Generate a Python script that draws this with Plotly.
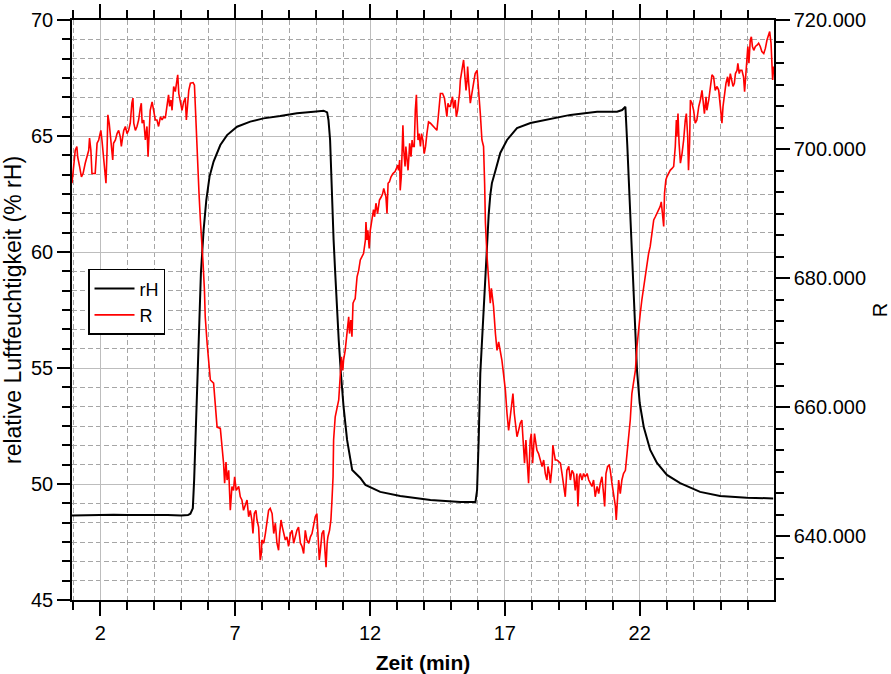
import plotly.graph_objects as go

# ---- data ----
rh_time = [0.95, 1.5, 2.0, 2.5, 3.0, 3.5, 4.0, 4.5, 5.0, 5.25, 5.34, 5.43, 5.48, 5.56, 5.61, 5.67,
           5.73, 5.83, 5.93, 6.05, 6.20, 6.45, 6.70, 7.07, 7.56, 8.05, 8.67, 9.29, 9.91, 10.28,
           10.41, 10.46, 10.52, 10.58, 10.65, 10.71, 10.77, 10.84, 10.92, 11.02, 11.15, 11.34,
           11.64, 11.83, 12.38, 13.12, 14.24, 15.35, 15.91, 15.97, 16.03, 16.09, 16.22, 16.28,
           16.34, 16.40, 16.46, 16.52, 16.65, 16.83, 17.08, 17.45, 17.95, 18.93, 19.43, 20.42, 21.16,
           21.35, 21.47, 21.54, 21.66, 21.72, 21.78, 21.84, 21.90, 22.00, 22.15, 22.39, 22.64,
           23.01, 23.50, 24.24, 24.98, 25.97, 26.95]
rh_values = [48.64, 48.66, 48.65, 48.67, 48.66, 48.67, 48.65, 48.66, 48.64, 48.66, 48.72, 48.95,
             50.2, 53.33, 55.49, 56.93, 59.09, 60.95, 62.24, 63.25, 63.90, 64.61, 65.04, 65.40,
             65.62, 65.76, 65.86, 65.98, 66.05, 66.09, 66.02, 65.69, 64.83, 62.67, 60.52, 59.09,
             57.63, 56.21, 54.78, 53.32, 51.90, 50.60, 50.26, 49.96, 49.66, 49.48, 49.31, 49.22,
             49.22, 49.74, 51.90, 54.78, 57.63, 59.09, 60.52, 61.6, 62.45, 62.97, 63.5, 64.27, 64.83,
             65.34, 65.56, 65.78, 65.91, 66.05, 66.05, 66.12, 66.26, 64.60, 61.38, 59.22, 57.80,
             56.34, 54.91, 53.49, 52.46, 51.47, 50.91, 50.39, 50.04, 49.66, 49.48, 49.41, 49.38]

r_time = [0.95, 1.01, 1.07, 1.13, 1.16, 1.23, 1.30, 1.36, 1.44, 1.57, 1.60, 1.65, 1.69, 1.81, 1.88,
          1.94, 2.02, 2.06, 2.12, 2.16, 2.21, 2.25, 2.28, 2.33, 2.37, 2.41, 2.46, 2.49, 2.56, 2.62,
          2.68, 2.74, 2.78, 2.83, 2.87, 2.93, 2.99, 3.05, 3.11, 3.17, 3.21, 3.24, 3.30, 3.36, 3.42,
          3.48, 3.52, 3.55, 3.61, 3.67, 3.73, 3.77, 3.80, 3.85, 3.92, 3.98, 4.04, 4.10, 4.16, 4.23,
          4.29, 4.35, 4.41, 4.47, 4.53, 4.57, 4.62, 4.66, 4.72, 4.78, 4.84, 4.87, 4.91, 4.97, 5.03,
          5.09, 5.15, 5.19, 5.24, 5.28, 5.34, 5.44, 5.49, 5.52, 5.56, 5.61, 5.66, 5.71,
          5.77, 5.81, 5.86, 5.89, 5.96, 6.02, 6.08, 6.20, 6.26,
          6.33, 6.45, 6.51, 6.57, 6.61, 6.66, 6.70, 6.76, 6.82, 6.88, 6.94, 6.98, 7.04, 7.13, 7.19,
          7.25, 7.31, 7.38, 7.44, 7.50, 7.56, 7.62, 7.66, 7.71, 7.77, 7.81, 7.87, 7.93, 7.97, 7.99,
          8.06, 8.12, 8.18, 8.24, 8.30, 8.37, 8.43, 8.49, 8.55, 8.61, 8.65, 8.70, 8.75, 8.80, 8.86,
          8.92, 8.98, 9.05, 9.11, 9.17, 9.23, 9.29, 9.35, 9.42, 9.48, 9.54, 9.60, 9.66, 9.73, 9.79,
          9.85, 9.91, 9.97, 10.03, 10.07, 10.12, 10.16, 10.22, 10.28, 10.32, 10.37, 10.41, 10.44,
          10.50, 10.55, 10.59, 10.63,
          10.65, 10.71, 10.84, 10.90, 10.94, 10.99, 11.02, 11.08, 11.15, 11.21, 11.24, 11.29, 11.33,
          11.37, 11.42, 11.45, 11.52, 11.58, 11.64, 11.70, 11.76, 11.83, 11.85, 11.89, 11.92, 11.97,
          12.01, 12.07, 12.13, 12.17, 12.22, 12.28, 12.35, 12.42, 12.47, 12.51, 12.54, 12.59, 12.63,
          12.67, 12.72, 12.78, 12.85, 12.93, 12.98, 13.03, 13.06, 13.10, 13.12, 13.16, 13.20, 13.22,
          13.25, 13.30, 13.33, 13.37, 13.41, 13.45, 13.47, 13.52, 13.56, 13.59, 13.64, 13.68, 13.72,
          13.74, 13.78, 13.82, 13.87, 13.91, 13.96, 14.01, 14.06, 14.11, 14.17, 14.24, 14.30, 14.36,
          14.42, 14.48, 14.52, 14.57, 14.61, 14.69, 14.76, 14.82, 14.85, 14.89, 14.94, 14.98, 15.01,
          15.06, 15.10, 15.16, 15.20, 15.25, 15.29, 15.32, 15.35, 15.39, 15.44, 15.47, 15.51, 15.56,
          15.60, 15.62, 15.66, 15.69,
          15.72, 15.84, 15.90, 15.97, 16.03, 16.09, 16.15, 16.21, 16.25, 16.28, 16.34, 16.40, 16.44,
          16.46, 16.50, 16.55, 16.58, 16.65, 16.71, 16.77, 16.83, 16.89, 16.95, 17.02, 17.08, 17.14,
          17.20, 17.26, 17.30, 17.35, 17.39, 17.45, 17.51, 17.57, 17.63, 17.70, 17.73, 17.78, 17.82,
          17.88, 17.94, 17.98, 18.03, 18.07, 18.10, 18.15, 18.19, 18.25, 18.31, 18.38, 18.44, 18.50,
          18.56, 18.60, 18.65, 18.69, 18.75, 18.78, 18.83, 18.87, 18.93, 18.99, 19.06, 19.12, 19.18,
          19.24, 19.30, 19.37, 19.43, 19.49, 19.55, 19.61, 19.67, 19.71, 19.76, 19.80, 19.86, 19.92,
          19.98, 20.05, 20.11, 20.17, 20.23, 20.29, 20.35, 20.42, 20.48, 20.54, 20.60, 20.66, 20.70,
          20.75, 20.81, 20.87, 20.91, 20.97, 21.03, 21.10, 21.13, 21.17, 21.22,
          21.28, 21.34, 21.40, 21.47, 21.53, 21.59, 21.65, 21.71, 21.78, 21.84, 21.90, 21.96, 22.02,
          22.08, 22.15, 22.21, 22.27, 22.33, 22.39, 22.45, 22.52, 22.58, 22.64, 22.70, 22.76, 22.80,
          22.84, 22.89, 22.92, 22.97, 23.01, 23.07, 23.13, 23.20, 23.26, 23.32, 23.36, 23.38, 23.42,
          23.46, 23.51, 23.57, 23.63, 23.69, 23.73, 23.78, 23.81, 23.85, 23.88, 23.94, 24.00, 24.06,
          24.12, 24.19, 24.25, 24.31, 24.35, 24.40, 24.46, 24.49, 24.56, 24.62, 24.68, 24.74, 24.80,
          24.87, 24.93, 24.99, 25.05, 25.09, 25.14, 25.20, 25.26, 25.30, 25.36, 25.42, 25.46, 25.51,
          25.55, 25.61, 25.64, 25.69, 25.73, 25.79, 25.85, 25.89, 25.94, 25.98, 26.01, 26.05, 26.10,
          26.14, 26.18, 26.23, 26.29, 26.35, 26.41, 26.47, 26.53, 26.60, 26.66, 26.72, 26.78, 26.82,
          26.87, 26.90, 26.93, 26.97]
r_values = [694.7, 697.3, 699.8, 700.4, 698.8, 697.3, 695.7, 696.2, 697.8, 699.8, 701.7, 699.8, 696.2,
            696.2, 700.9, 701.4, 702.9, 701.4, 698.8, 696.2, 694.7, 699.8, 705.3, 704.0, 702.4, 701.4,
            698.3, 700.9, 701.4, 702.4, 702.9, 701.9, 700.4, 701.9, 702.9, 703.5, 702.4, 702.9, 704.0,
            707.1, 707.9, 704.0, 702.9, 703.5, 704.5, 706.3, 707.1, 704.0, 704.5, 701.4, 703.5, 698.8,
            702.9, 706.0, 707.3, 705.5, 704.5, 704.5, 703.5, 705.0, 704.5, 705.0, 704.8, 706.6, 708.4,
            706.6, 707.6, 706.0, 709.7, 708.9, 710.7, 711.5, 708.6, 707.1, 706.0, 707.3, 707.9, 704.5,
            706.6, 709.1, 710.2, 710.3, 709.9, 706.6, 703.5, 697.3, 693.1, 689.0,
            685.4, 682.3, 678.2, 674.0, 669.9, 666.3, 664.2, 663.7, 660.6,
            656.9, 656.7, 654.4, 651.3, 648.2, 651.5, 648.7, 650.2, 644.0, 647.7, 647.1, 649.2, 647.1,
            647.7, 646.1, 645.6, 644.0, 645.1, 645.6, 643.0, 644.0, 642.5, 640.4, 643.5, 644.0, 642.5,
            641.4, 636.3, 637.3, 639.4, 638.9, 640.4, 642.5, 644.0, 644.3, 643.5, 640.4, 642.0, 638.9,
            637.8, 640.4, 642.5, 641.4, 640.4, 639.4, 639.9, 638.4, 640.4, 640.9, 638.9, 639.9, 640.9,
            641.4, 638.9, 638.4, 637.3, 640.9, 639.4, 638.9, 639.9, 640.4, 642.0, 643.0, 643.5, 640.4,
            636.3, 637.8, 640.4, 640.9, 637.3, 635.2, 638.9, 639.9, 640.9, 642.5, 645.6, 649.2,
            654.9, 658.5, 661.1, 665.2, 667.8, 665.7, 667.3, 668.8, 671.9, 674.0, 671.4, 673.5, 670.9,
            676.1, 676.6, 676.8, 680.2, 681.2, 682.8, 683.3, 683.8, 685.9, 688.7, 685.9, 687.4, 684.6,
            687.4, 689.0, 690.6, 689.5, 691.6, 690.0, 692.1, 692.6, 693.1, 693.9, 693.4, 692.6, 690.0,
            694.7, 694.9, 695.7, 696.2, 696.5, 697.0, 697.5, 696.7, 698.3, 693.6, 695.7, 700.9, 703.7,
            699.8, 697.3, 700.4, 698.3, 696.7, 699.3, 700.9, 698.8, 701.4, 700.4, 700.4, 706.0, 708.4,
            705.5, 701.4, 702.4, 700.4, 702.4, 701.4, 699.3, 700.4, 702.4, 704.2, 704.0, 703.7, 703.5,
            703.2, 702.9, 704.5, 707.1, 708.6, 708.6, 707.9, 706.0, 705.0, 707.1, 706.6, 706.6, 707.1,
            708.1, 706.3, 707.6, 705.0, 706.0, 707.6, 708.6, 710.7, 712.0, 713.0, 713.8, 711.7, 709.1,
            710.7, 712.8, 710.2, 708.1,
            707.1, 710.2, 711.7, 712.2, 709.1, 705.5, 701.4, 700.4, 694.7, 688.5, 683.3, 679.7, 677.1,
            676.1, 678.4, 676.6, 675.6, 671.4, 668.8, 670.1, 668.8, 667.3, 665.2, 662.6, 659.0, 656.4,
            658.5, 661.1, 662.1, 659.0, 657.5, 655.4, 656.4, 657.5, 658.0, 653.3, 651.3, 654.9, 652.3,
            648.2, 654.9, 655.9, 651.3, 655.4, 655.9, 654.4, 653.3, 652.8, 651.8, 650.8, 651.8, 649.7,
            648.7, 650.8, 649.7, 648.2, 650.8, 654.1, 652.8, 651.8, 651.8, 651.5, 651.3, 649.7, 648.2,
            646.1, 650.2, 650.8, 648.7, 650.2, 649.7, 647.1, 649.7, 644.6, 649.2, 649.7, 648.7, 649.7,
            649.2, 649.7, 648.7, 648.2, 647.7, 648.7, 646.1, 647.7, 646.6, 648.2, 649.2, 646.6, 644.6,
            649.7, 650.8, 651.0, 650.2, 648.2, 646.1, 644.6, 642.5, 645.6, 648.7,
            646.6, 648.7, 649.7, 650.2, 652.8, 655.4, 658.0, 662.1, 663.7, 665.7, 669.4, 672.5, 674.5,
            676.6, 678.7, 680.7, 682.8, 683.8, 684.9, 686.9, 689.0, 689.5, 690.0, 690.5, 691.1, 691.8,
            690.0, 688.0, 693.1, 695.2, 695.7, 696.2, 696.7, 697.0, 697.3, 700.4, 704.5, 701.9, 705.5,
            700.9, 697.8, 699.3, 701.4, 704.5, 705.5, 701.9, 696.7, 700.9, 707.6, 707.1, 706.0, 704.0,
            704.5, 706.6, 707.6, 709.1, 707.1, 705.5, 708.1, 706.0, 707.6, 709.7, 711.5, 711.2, 709.1,
            709.7, 709.1, 706.6, 704.0, 706.6, 708.6, 710.2, 711.2, 709.7, 711.7, 710.7, 709.7, 710.2,
            711.7, 712.2, 713.3, 711.7, 712.2, 712.2, 711.2, 708.9, 712.2, 714.8, 715.9, 713.3, 716.9,
            717.4, 715.9, 715.3, 715.9, 716.1, 716.4, 715.9, 715.1, 714.8, 715.6, 716.9, 717.7, 718.2,
            716.4, 713.3, 710.7, 712.8]

x_range = [0.95, 26.98]
rh_range = [45, 70]
r_range = [630.1, 720]

FONT = "Arial, 'Liberation Sans', sans-serif"
MAJOR_GRID = "#bdbdbd"
MINOR_GRID = "#a6a6a6"

fig = go.Figure()
fig.add_trace(go.Scatter(x=rh_time, y=rh_values, name="rH", mode="lines",
                         line=dict(color="black", width=2)))
fig.add_trace(go.Scatter(x=r_time, y=r_values, name="R", mode="lines", yaxis="y2",
                         line=dict(color="red", width=1.6)))

fig.update_layout(
    width=891, height=674,
    margin=dict(l=72, r=117, t=20, b=74, autoexpand=False),
    paper_bgcolor="white", plot_bgcolor="white",
    font=dict(family=FONT, size=20, color="black"),
    showlegend=True,
    legend=dict(x=0.0228, y=0.571, xanchor="left", yanchor="top",
                bordercolor="black", borderwidth=1.5, bgcolor="white",
                font=dict(size=18), tracegroupgap=0, itemwidth=40),
    xaxis=dict(range=x_range, tick0=2, dtick=5, ticks="outside", ticklen=14, tickwidth=1.5,
               tickcolor="black", showline=True, linecolor="black", linewidth=1.5,
               mirror="ticks",
               showgrid=True, gridcolor=MAJOR_GRID, gridwidth=1, zeroline=False,
               tickfont=dict(size=20),
               title=dict(text="<b>Zeit (min)</b>", font=dict(size=21), standoff=14),
               minor=dict(tick0=2, dtick=1, ticks="outside", ticklen=8, tickwidth=1.5,
                          tickcolor="black", showgrid=True, gridcolor=MINOR_GRID,
                          griddash="5px,3px", gridwidth=1),
               automargin=False),
    yaxis=dict(range=rh_range, tick0=45, dtick=5, ticks="outside", ticklen=13, tickwidth=1.5,
               tickcolor="black", showline=True, linecolor="black", linewidth=1.5,
               showgrid=True, gridcolor=MAJOR_GRID, gridwidth=1, zeroline=False,
               tickfont=dict(size=20),
               title=dict(text="relative Luftfeuchtigkeit (% rH)", font=dict(size=23), standoff=3),
               minor=dict(tick0=45, dtick=5/6, ticks="outside", ticklen=8, tickwidth=1.5,
                          tickcolor="black", showgrid=True, gridcolor=MINOR_GRID,
                          griddash="5px,3px", gridwidth=1),
               automargin=False),
    yaxis2=dict(overlaying="y", side="right", anchor="x", range=r_range, tick0=640, dtick=20,
                tickformat=".3f", ticks="outside", ticklen=14, tickwidth=1.5, tickcolor="black",
                showline=True, linecolor="black", linewidth=1.5, showgrid=False, zeroline=False,
                tickfont=dict(size=20),
                title=dict(text="R", font=dict(size=20), standoff=8),
                minor=dict(tick0=640, dtick=20/6, ticks="outside", ticklen=8, tickwidth=1.5,
                           tickcolor="black", showgrid=False),
                automargin=False),
)

fig.write_html("out.html")
